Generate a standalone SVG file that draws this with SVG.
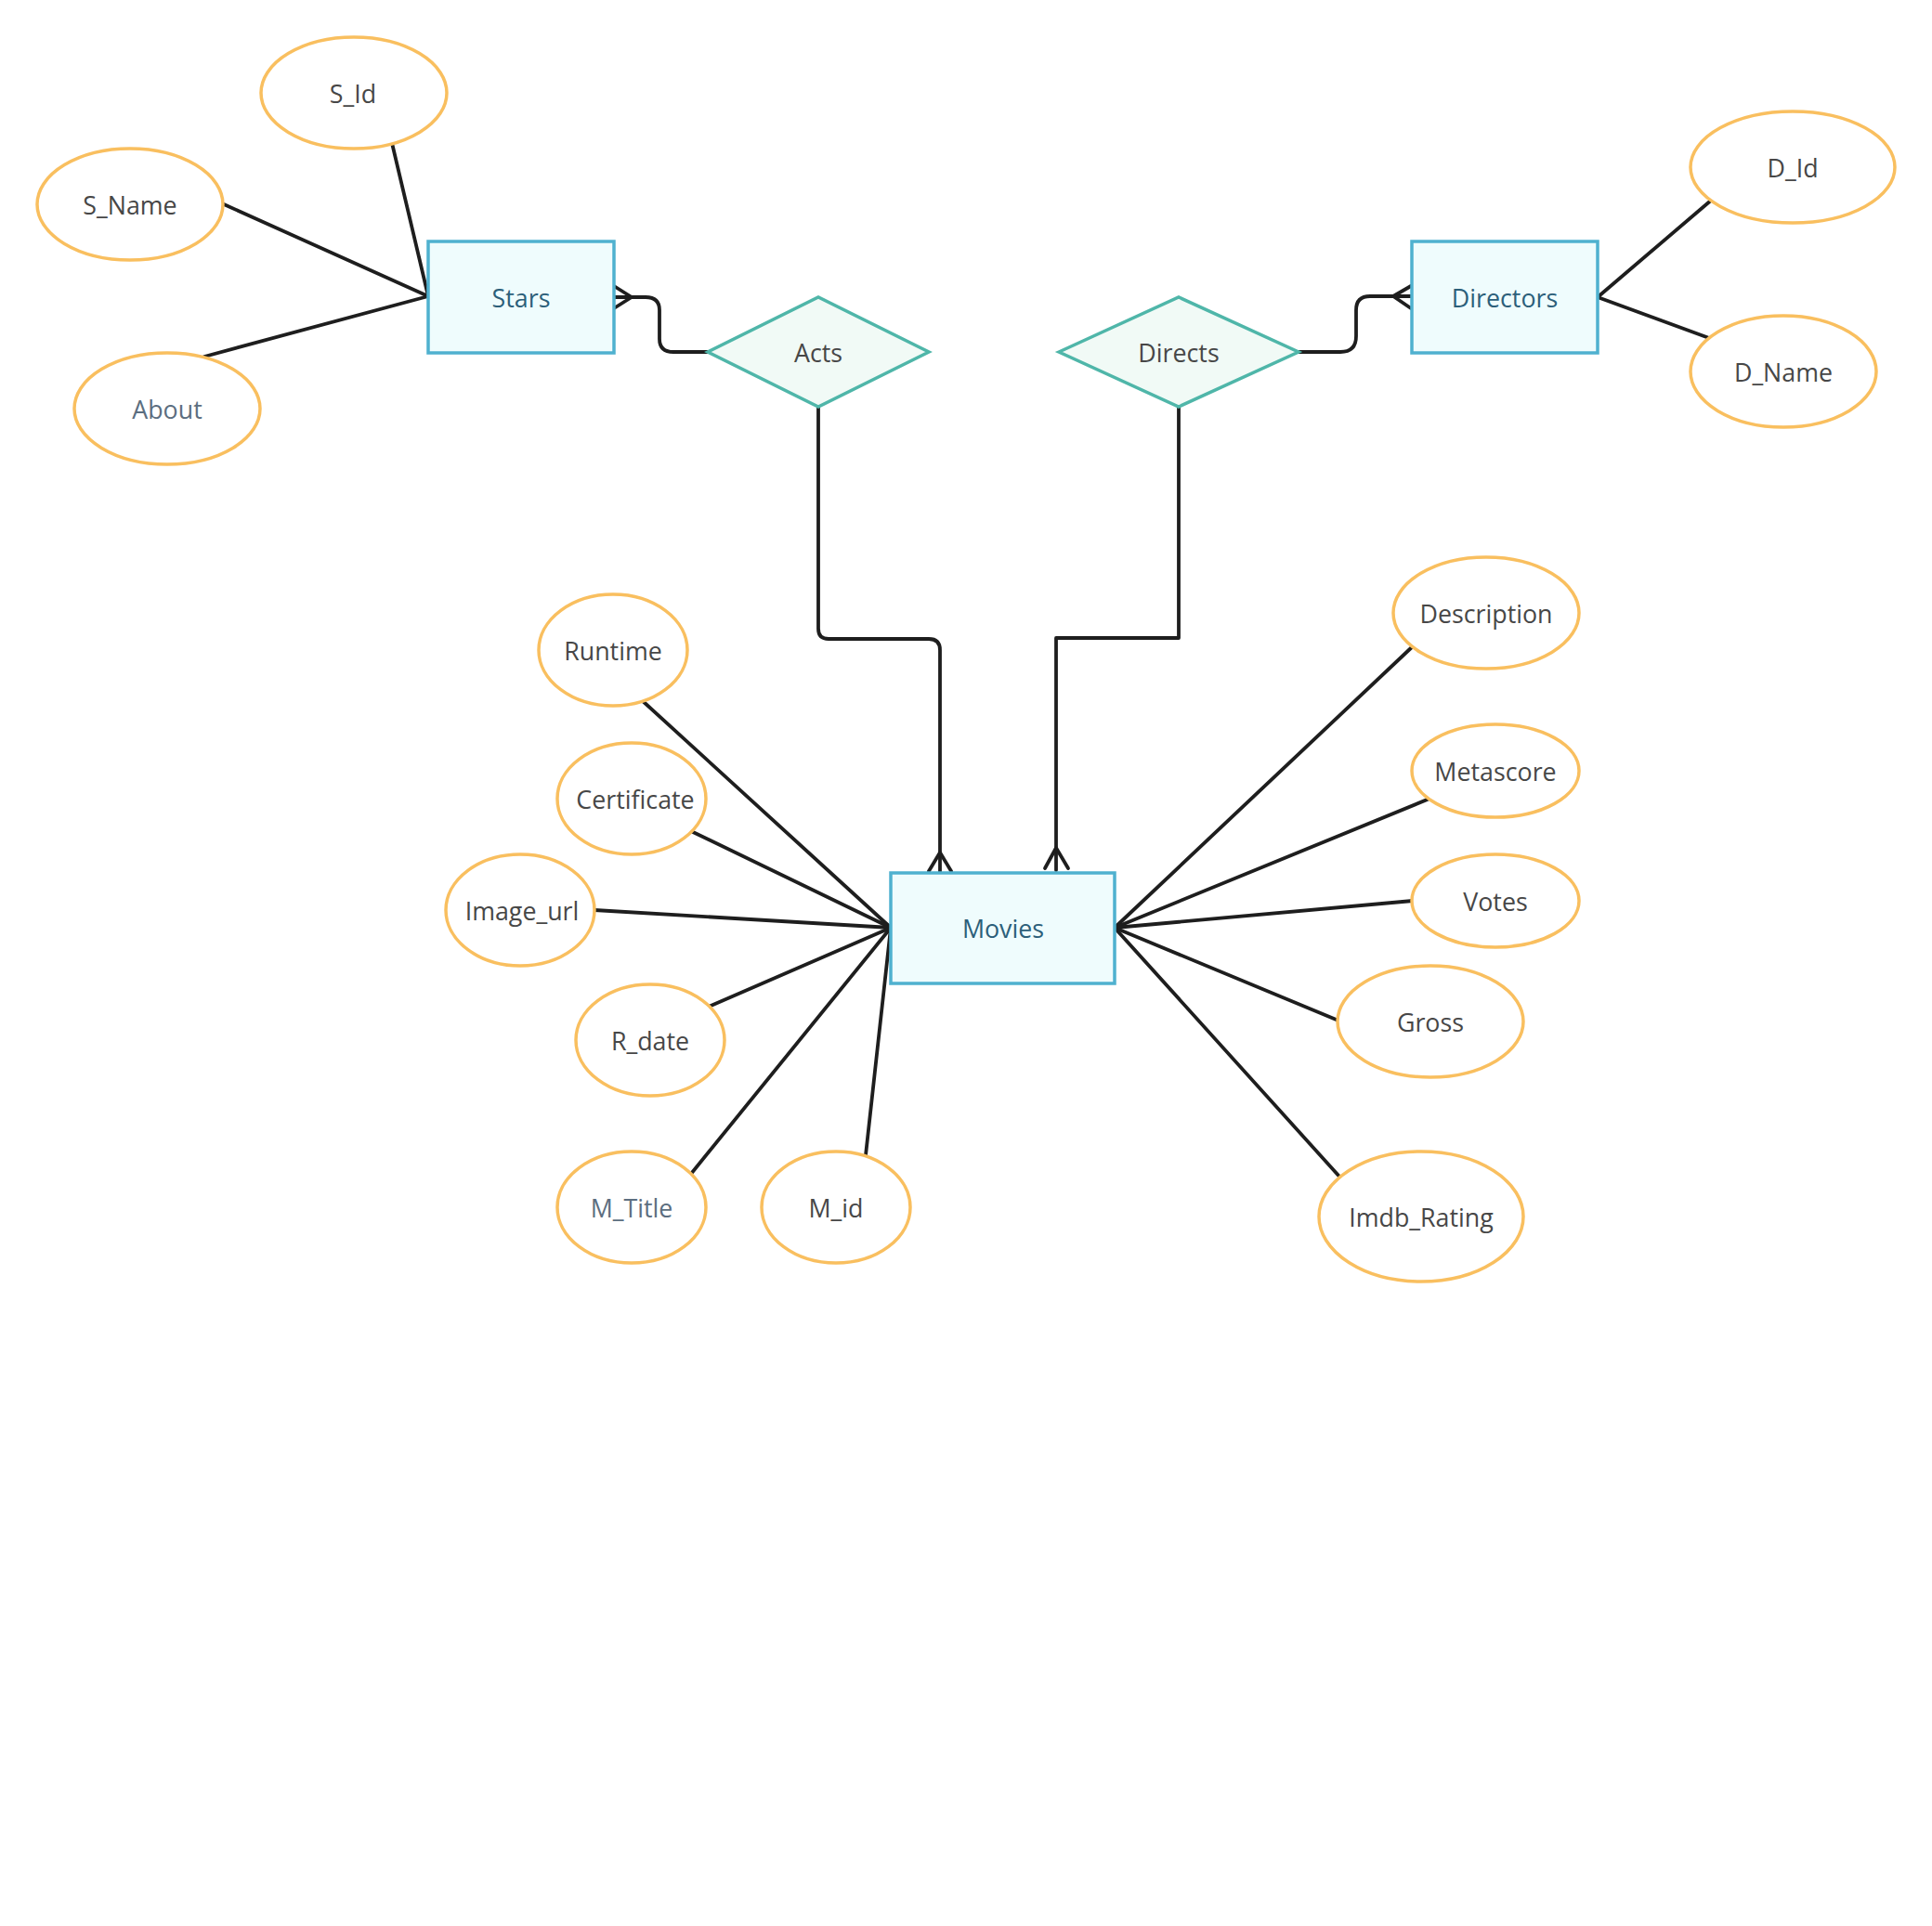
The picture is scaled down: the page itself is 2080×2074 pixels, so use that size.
<svg xmlns="http://www.w3.org/2000/svg" width="2080" height="2074" viewBox="0 0 2080 2074">
<style>
.attr{fill:#ffffff;stroke:#f9bf5f;stroke-width:3.5}
.ent{fill:#effcfd;stroke:#4fb1cf;stroke-width:3.5}
.rel{fill:#f1faf6;stroke:#4fb6a9;stroke-width:3.5}
.ln{fill:none;stroke:#1e1e1e;stroke-width:3.8;stroke-linecap:round;stroke-linejoin:round}
text{font-family:"Open Sans","Noto Sans","Liberation Sans",sans-serif;font-size:26.8px;text-anchor:middle}
.ta{fill:#474747}
.tm{fill:#5c6e80}
.te{fill:#2c5f7a}
.tr{fill:#474747}
</style>
<rect width="2080" height="2074" fill="#ffffff"/>
<g id="connectors">
<line class="ln" x1="422" y1="154" x2="461" y2="319"/>
<line class="ln" x1="241" y1="220" x2="461" y2="319"/>
<line class="ln" x1="220" y1="384" x2="461" y2="319"/>
<path class="ln" d="M762 379 H725 Q710 379 710 365 V334 Q710 320 695 320 H661"/>
<path class="ln" d="M661 308 L680 320 L661 332"/>
<path class="ln" d="M881 439 V677 Q881 688 892 688 H1000 Q1012 688 1012 700 V939"/>
<path class="ln" d="M1000 938 L1012 918 L1024 938"/>
<path class="ln" d="M1269 439 V687 H1137 V937"/>
<path class="ln" d="M1125 935 L1137 913 L1150 935"/>
<path class="ln" d="M1398 379 H1443 Q1460 379 1460 362 V334 Q1460 319 1475 319 H1519"/>
<path class="ln" d="M1519 308 L1500 319 L1519 332"/>
<line class="ln" x1="1720" y1="320" x2="1843" y2="215"/>
<line class="ln" x1="1720" y1="320" x2="1840" y2="364"/>
<line class="ln" x1="959" y1="999" x2="692" y2="755"/>
<line class="ln" x1="959" y1="999" x2="744" y2="895"/>
<line class="ln" x1="959" y1="999" x2="640" y2="980"/>
<line class="ln" x1="959" y1="999" x2="763" y2="1084"/>
<line class="ln" x1="959" y1="999" x2="744" y2="1264"/>
<line class="ln" x1="959" y1="999" x2="932" y2="1244"/>
<line class="ln" x1="1200" y1="999" x2="1521" y2="696"/>
<line class="ln" x1="1200" y1="999" x2="1539" y2="860"/>
<line class="ln" x1="1200" y1="999" x2="1521" y2="970"/>
<line class="ln" x1="1200" y1="999" x2="1441" y2="1099"/>
<line class="ln" x1="1200" y1="999" x2="1443" y2="1268"/>
</g>
<g id="stars"><rect class="ent" x="461" y="260" width="200" height="120"/><text class="te" x="561" y="331">Stars</text></g>
<g id="directors"><rect class="ent" x="1520" y="260" width="200" height="120"/><text class="te" x="1620" y="331">Directors</text></g>
<g id="movies"><rect class="ent" x="959" y="940" width="241" height="119"/><text class="te" x="1080" y="1010">Movies</text></g>
<g id="acts"><polygon class="rel" points="762,379 881,320 1000,379 881,438"/><text class="tr" x="881" y="390">Acts</text></g>
<g id="directs"><polygon class="rel" points="1140,379 1269,320 1398,379 1269,438"/><text class="tr" x="1269" y="390">Directs</text></g>
<g id="s_id"><ellipse class="attr" cx="381" cy="100" rx="100" ry="60"/><text class="ta" x="380" y="111">S_Id</text></g>
<g id="s_name"><ellipse class="attr" cx="140" cy="220" rx="100" ry="60"/><text class="ta" x="140" y="231">S_Name</text></g>
<g id="about"><ellipse class="attr" cx="180" cy="440" rx="100" ry="60"/><text class="tm" x="180" y="451">About</text></g>
<g id="d_id"><ellipse class="attr" cx="1930" cy="180" rx="110" ry="60"/><text class="ta" x="1930" y="191">D_Id</text></g>
<g id="d_name"><ellipse class="attr" cx="1920" cy="400" rx="100" ry="60"/><text class="ta" x="1920" y="411">D_Name</text></g>
<g id="runtime"><ellipse class="attr" cx="660" cy="700" rx="80" ry="60"/><text class="ta" x="660" y="711">Runtime</text></g>
<g id="certificate"><ellipse class="attr" cx="680" cy="860" rx="80" ry="60"/><text class="ta" x="684" y="871">Certificate</text></g>
<g id="image_url"><ellipse class="attr" cx="560" cy="980" rx="80" ry="60"/><text class="ta" x="562" y="991">Image_url</text></g>
<g id="r_date"><ellipse class="attr" cx="700" cy="1120" rx="80" ry="60"/><text class="ta" x="700" y="1131">R_date</text></g>
<g id="m_title"><ellipse class="attr" cx="680" cy="1300" rx="80" ry="60"/><text class="tm" x="680" y="1311">M_Title</text></g>
<g id="m_id"><ellipse class="attr" cx="900" cy="1300" rx="80" ry="60"/><text class="ta" x="900" y="1311">M_id</text></g>
<g id="description"><ellipse class="attr" cx="1600" cy="660" rx="100" ry="60"/><text class="ta" x="1600" y="671">Description</text></g>
<g id="metascore"><ellipse class="attr" cx="1610" cy="830" rx="90" ry="50"/><text class="ta" x="1610" y="841">Metascore</text></g>
<g id="votes"><ellipse class="attr" cx="1610" cy="970" rx="90" ry="50"/><text class="ta" x="1610" y="981">Votes</text></g>
<g id="gross"><ellipse class="attr" cx="1540" cy="1100" rx="100" ry="60"/><text class="ta" x="1540" y="1111">Gross</text></g>
<g id="imdb_rating"><ellipse class="attr" cx="1530" cy="1310" rx="110" ry="70"/><text class="ta" x="1530" y="1321">Imdb_Rating</text></g>
</svg>
